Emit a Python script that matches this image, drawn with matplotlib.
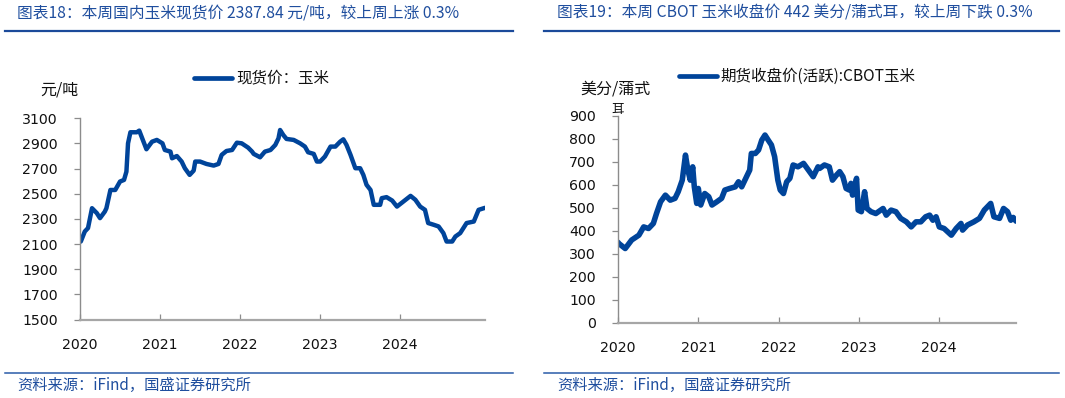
import matplotlib
matplotlib.use("Agg")
import matplotlib.pyplot as plt
from matplotlib.lines import Line2D

# ---------------- data ----------------
spot_years = [2020.01, 2020.06, 2020.10, 2020.15, 2020.21, 2020.25, 2020.31, 2020.33, 2020.38, 2020.44,
              2020.50, 2020.55, 2020.58, 2020.60, 2020.63, 2020.71, 2020.74, 2020.83, 2020.90, 2020.96,
              2021.03, 2021.06, 2021.13, 2021.15, 2021.21, 2021.27, 2021.31, 2021.37, 2021.42, 2021.44,
              2021.50, 2021.58, 2021.67, 2021.73, 2021.77, 2021.83, 2021.90, 2021.96, 2022.02, 2022.10,
              2022.15, 2022.17, 2022.25, 2022.31, 2022.38, 2022.44, 2022.48, 2022.50, 2022.54, 2022.58,
              2022.67, 2022.75, 2022.81, 2022.85, 2022.92, 2022.96, 2023.00, 2023.06, 2023.13, 2023.19,
              2023.25, 2023.29, 2023.33, 2023.38, 2023.44, 2023.50, 2023.54, 2023.58, 2023.63, 2023.67,
              2023.75, 2023.77, 2023.83, 2023.90, 2023.96, 2024.04, 2024.13, 2024.19, 2024.25, 2024.31,
              2024.35, 2024.42, 2024.48, 2024.54, 2024.58, 2024.65, 2024.69, 2024.75, 2024.83, 2024.92,
              2024.98, 2025.06]
spot_price = [2120, 2200, 2227, 2385, 2346, 2306, 2358, 2385, 2530, 2530,
              2597, 2610, 2676, 2901, 2989, 2989, 3002, 2854, 2914, 2928,
              2901, 2848, 2835, 2782, 2800, 2756, 2703, 2650, 2684, 2756,
              2756, 2737, 2724, 2737, 2809, 2840, 2848, 2906, 2901, 2867,
              2835, 2817, 2790, 2835, 2848, 2888, 2941, 3007, 2967, 2936,
              2928, 2901, 2875, 2830, 2817, 2756, 2756, 2796, 2875, 2875,
              2914, 2933, 2888, 2809, 2703, 2703, 2650, 2571, 2530, 2412,
              2412, 2465, 2473, 2446, 2398, 2438, 2483, 2452, 2398, 2372,
              2267, 2253, 2240, 2187, 2120, 2120, 2160, 2187, 2267, 2279,
              2372, 2388]

cbot_years = [2020.00, 2020.01, 2020.09, 2020.17, 2020.26, 2020.32, 2020.38, 2020.44, 2020.48, 2020.53,
              2020.59, 2020.65, 2020.71, 2020.75, 2020.80, 2020.84, 2020.87, 2020.90, 2020.93, 2020.95,
              2020.98, 2021.00, 2021.03, 2021.08, 2021.13, 2021.17, 2021.23, 2021.29, 2021.33, 2021.39,
              2021.46, 2021.50, 2021.54, 2021.60, 2021.64, 2021.66, 2021.71, 2021.75, 2021.79, 2021.83,
              2021.87, 2021.91, 2021.95, 2021.99, 2022.02, 2022.06, 2022.10, 2022.14, 2022.18, 2022.24,
              2022.31, 2022.37, 2022.43, 2022.49, 2022.51, 2022.57, 2022.63, 2022.67, 2022.72, 2022.76,
              2022.80, 2022.84, 2022.88, 2022.90, 2022.92, 2022.97, 2022.99, 2023.03, 2023.07, 2023.10,
              2023.15, 2023.21, 2023.30, 2023.34, 2023.40, 2023.46, 2023.52, 2023.59, 2023.65, 2023.71,
              2023.77, 2023.83, 2023.88, 2023.92, 2023.96, 2024.00, 2024.06, 2024.15, 2024.21, 2024.27,
              2024.29, 2024.35, 2024.43, 2024.50, 2024.56, 2024.64, 2024.68, 2024.75, 2024.80, 2024.85,
              2024.89, 2024.92, 2024.955]
cbot_price = [350, 345, 323, 360, 381, 417, 410, 432, 476, 526,
              555, 533, 541, 570, 620, 729, 664, 620, 678, 591,
              519, 584, 512, 562, 548, 512, 526, 541, 577, 584,
              591, 613, 591, 635, 664, 736, 736, 751, 794, 816,
              794, 773, 722, 620, 577, 562, 613, 628, 686, 678,
              693, 664, 635, 678, 671, 686, 678, 620, 642, 657,
              635, 584, 577, 606, 555, 628, 490, 483, 570, 497,
              483, 475, 497, 468, 490, 483, 454, 439, 417, 439,
              439, 461, 468, 446, 461, 417, 410, 381, 410, 432,
              403, 425, 439, 454, 490, 519, 461, 454, 497, 483,
              446, 458, 442]

year_ticks = [2020, 2021, 2022, 2023, 2024]
spot_yticks = list(range(1500, 3101, 200))
cbot_yticks = list(range(0, 901, 100))

title_left = "图表18：本周国内玉米现货价 2387.84 元/吨，较上周上涨 0.3%"
title_right = "图表19：本周 CBOT 玉米收盘价 442 美分/蒲式耳，较上周下跌 0.3%"
legend_left = "现货价：玉米"
legend_right = "期货收盘价(活跃):CBOT玉米"
unit_left = "元/吨"
unit_right_1 = "美分/蒲式"
unit_right_2 = "耳"
source_text = "资料来源：iFind，国盛证券研究所"

# ---------------- style ----------------
W, H = 1065, 398
LINE = "#00449A"
TITLE_C = "#1F4E9E"
AXC = "#8C8C8C"
CJK = ["Noto Sans CJK SC", "DejaVu Sans"]

fig = plt.figure(figsize=(W / 100, H / 100), dpi=100)

def fx(px):
    return px / W

def fy(py):
    return 1 - py / H

def style_axes(ax, xlim, ylim, yticks):
    ax.set_xlim(*xlim)
    ax.set_ylim(*ylim)
    ax.set_xticks(year_ticks)
    ax.set_xticklabels([str(y) for y in year_ticks])
    ax.set_yticks(yticks)
    ax.set_yticklabels([str(v) for v in yticks])
    for s in ("top", "right"):
        ax.spines[s].set_visible(False)
    ax.spines["left"].set_color(AXC)
    ax.spines["left"].set_linewidth(1.0)
    ax.spines["bottom"].set_color("#A6A6A6")
    ax.spines["bottom"].set_linewidth(1.6)
    ax.tick_params(axis="x", direction="in", length=4, width=0.9, color=AXC,
                   pad=13, labelsize=10.2, labelcolor="#111111")
    ax.tick_params(axis="y", direction="out", length=4, width=0.9, color=AXC,
                   pad=12, labelsize=10.2, labelcolor="#111111")
    for lab in ax.get_xticklabels() + ax.get_yticklabels():
        lab.set_fontfamily("DejaVu Sans")

# left axes: x 80..485 px, y 118.3..319.5 px
axL = fig.add_axes([fx(80), fy(319.5), fx(485) - fx(80), fy(118.3) - fy(319.5)])
axL.plot(spot_years, spot_price, color=LINE, lw=3.2, solid_joinstyle="round", solid_capstyle="round")
style_axes(axL, (2020, 2025.06), (1500, 3100), spot_yticks)

# right axes: x 618..1016 px, y 115.7..322.9 px
axR = fig.add_axes([fx(618), fy(322.9), fx(1016) - fx(618), fy(115.7) - fy(322.9)])
axR.plot(cbot_years, cbot_price, color=LINE, lw=4.0, solid_joinstyle="round", solid_capstyle="round")
style_axes(axR, (2020, 2024.955), (0, 900), cbot_yticks)

# titles
fig.text(fx(17), fy(13), title_left, fontsize=11.3, color=TITLE_C, family=CJK,
         style="italic", ha="left", va="center")
fig.text(fx(557), fy(13), title_right, fontsize=11.3, color=TITLE_C, family=CJK,
         style="italic", ha="left", va="center")

# header / footer rules
for x0, x1 in ((5, 513), (544, 1059)):
    fig.add_artist(Line2D([fx(x0), fx(x1)], [fy(31), fy(31)], color="#1B4A9A", lw=1.6))
    fig.add_artist(Line2D([fx(x0), fx(x1)], [fy(372.5), fy(372.5)], color="#2A5BA8", lw=1.1))

# legends
fig.add_artist(Line2D([fx(194), fx(232)], [fy(78), fy(78)], color=LINE, lw=3.4,
                      solid_capstyle="round"))
fig.text(fx(236), fy(78), legend_left, fontsize=11.2, family=CJK, color="#111111",
         ha="left", va="center")
fig.add_artist(Line2D([fx(679), fx(717)], [fy(76), fy(76)], color=LINE, lw=3.4,
                      solid_capstyle="round"))
fig.text(fx(720), fy(76), legend_right, fontsize=11.2, family=CJK, color="#111111",
         ha="left", va="center")

# unit labels
fig.text(fx(40), fy(90), unit_left, fontsize=11.5, family=CJK, color="#111111",
         ha="left", va="center")
fig.text(fx(580), fy(89), unit_right_1, fontsize=11.5, family=CJK, color="#111111",
         ha="left", va="center")
fig.text(fx(611), fy(109), unit_right_2, fontsize=9, family=CJK, color="#111111",
         ha="left", va="center")

# sources
fig.text(fx(17), fy(385), source_text, fontsize=11, family=CJK, color=TITLE_C,
         style="italic", ha="left", va="center")
fig.text(fx(557), fy(385), source_text, fontsize=11, family=CJK, color=TITLE_C,
         style="italic", ha="left", va="center")

fig.savefig("out.png", dpi=100)
